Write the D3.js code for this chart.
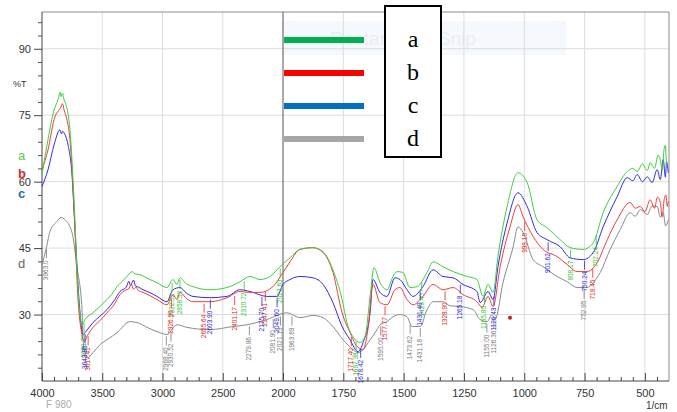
<!DOCTYPE html>
<html>
<head>
<meta charset="utf-8">
<script src="https://cdn.jsdelivr.net/npm/d3@7"></script>
<style>
  html, body { margin: 0; padding: 0; background: #fff; }
  svg { display: block; font-family: "Liberation Sans", Arial, sans-serif; }
</style>
</head>
<body>
<svg id="chart" width="677" height="412"></svg>
<script>
// series values: [wavenumber (1/cm), %T]
const seriesA = [
  [4000,61.6],[3950,69.5],[3900,76.2],[3867,78.5],[3850,80.2],[3842,79.2],[3830,80.0],[3817,78.5],[3801,77.4],
  [3768,71.7],[3734,55.9],[3701,35.6],[3676,28.4],[3668,27.7],[3643,28.9],[3577,30.4],
  [3520,31.8],[3461,33.4],[3420,34.6],[3378,36.3],[3330,37.6],[3295,38.6],[3253,39.7],[3230,39.2],[3187,39.0],
  [3120,38.1],[3046,37.2],[2963,36.1],[2913,37.9],[2880,36.8],[2855,38.3],[2800,36.9],[2747,36.3],
  [2606,35.6],[2465,36.1],[2357,37.4],[2274,38.6],[2191,37.9],[2108,38.6],[2025,40.8],
  [1971,42.8],[1930,44.7],[1876,45.1],[1834,44.2],[1793,40.1],[1755,33.4],[1735,28.2],[1710,25.0],
  [1681,23.7],[1660,25.0],[1639,34.1],[1623,40.6],[1598,37.2],[1569,35.6],[1544,38.6],[1527,39.7],
  [1503,39.5],[1474,36.1],[1444,36.3],[1403,39.5],[1378,41.9],[1337,40.8],[1295,39.7],[1237,38.6],
  [1196,37.9],[1171,34.1],[1150,36.8],[1129,35.0],[1109,43.1],[1071,54.4],[1026,62.0],[988,59.8],
  [947,51.4],[905,49.6],[851,46.9],[810,45.1],[756,44.7],[714,46.2],[673,53.0],[615,58.9],[573,62.3],
  [550,63.0],[532,62.3],[510,64.0],[490,62.5],[478,64.3],[460,63.0],[445,66.0],[436,65.0],[428,62.5],
  [420,67.5],[415,68.2],[410,64.0],[403,63.4]
];
const seriesB = [
  [4000,62.7],[3950,67.2],[3900,74.0],[3842,76.9],[3830,77.6],[3817,76.2],[3793,74.0],[3768,69.5],
  [3734,53.7],[3701,33.4],[3668,25.5],[3651,23.9],[3618,25.5],[3577,27.1],[3520,28.6],[3461,30.4],
  [3400,32.3],[3353,34.5],[3300,35.6],[3280,35.8],[3260,36.8],[3240,35.7],[3220,36.2],[3200,35.4],
  [3162,35.0],[3100,34.2],[3046,33.4],[2963,32.2],
  [2913,34.5],[2880,33.4],[2855,35.0],[2800,33.6],[2747,32.9],[2606,32.9],[2465,33.8],[2357,35.2],
  [2274,35.0],[2191,35.0],[2084,36.3],[2000,39.5],[1971,41.9],[1930,44.7],[1876,45.1],[1834,44.0],
  [1793,39.5],[1755,30.4],[1722,25.9],[1693,22.8],[1668,22.1],[1648,26.6],[1627,36.8],[1598,32.7],
  [1569,32.2],[1536,35.6],[1515,36.1],[1486,33.4],[1461,32.2],[1420,34.1],[1378,36.8],[1337,35.6],
  [1295,36.1],[1254,34.5],[1196,32.9],[1175,31.6],[1150,34.1],[1129,31.8],[1100,40.8],[1059,49.8],
  [1026,54.8],[1005,52.1],[963,47.6],[922,44.7],[864,43.1],[822,41.3],[781,39.7],[739,39.7],[698,41.7],
  [656,46.9],[615,51.4],[561,55.3],[540,54.0],[519,54.4],[500,53.2],[478,55.9],[460,54.0],[448,56.5],
  [436,55.3],[428,52.0],[420,56.0],[413,57.0],[407,54.4],[403,55.5]
];
const seriesC = [
  [4000,58.9],[3950,62.7],[3900,68.3],[3851,71.7],[3838,70.8],[3828,71.4],[3817,71.0],[3784,68.3],
  [3751,61.6],[3726,49.2],[3693,33.4],[3660,25.5],[3635,26.2],[3577,28.2],[3520,29.6],[3461,31.1],
  [3400,33.2],[3353,35.2],[3300,36.2],[3280,37.5],[3265,36.6],[3240,37.8],[3225,36.5],[3200,36.2],
  [3162,35.6],[3100,34.9],[3046,34.1],[2963,32.9],
  [2913,35.6],[2855,36.1],[2800,34.8],[2747,34.1],[2606,33.8],[2465,34.1],[2357,35.6],[2274,35.2],
  [2133,34.1],[2050,34.1],[2000,36.8],[1971,37.9],[1930,38.6],[1876,38.3],[1834,36.8],[1793,32.7],
  [1755,27.3],[1722,24.3],[1689,21.6],[1668,23.7],[1639,30.4],[1627,37.9],[1598,35.0],[1569,34.1],
  [1536,38.3],[1515,37.9],[1486,35.6],[1461,34.1],[1420,36.3],[1378,40.1],[1337,38.6],[1295,38.3],
  [1254,36.8],[1196,35.2],[1183,32.7],[1150,35.2],[1129,33.4],[1109,40.8],[1071,50.7],[1026,57.5],
  [988,54.4],[947,48.5],[905,46.9],[851,45.3],[810,42.8],[756,42.4],[714,44.0],[673,49.8],[615,56.6],
  [573,60.9],[550,60.2],[532,61.6],[510,60.0],[490,61.1],[470,59.8],[449,62.7],[436,60.5],[424,65.0],
  [415,61.0],[410,64.5],[403,62.0]
];
const seriesD = [
  [4000,41.3],[3967,44.7],[3934,48.7],[3876,51.0],[3842,51.9],[3809,51.4],[3751,48.5],[3710,40.8],
  [3668,31.1],[3660,24.3],[3643,21.4],[3618,20.3],[3577,21.4],[3519,23.2],[3450,24.5],[3378,25.9],
  [3270,28.4],[3212,28.2],[3120,27.0],[3021,25.9],[2963,25.5],[2880,27.7],[2797,27.1],[2606,26.6],
  [2415,27.3],[2299,27.7],[2133,28.9],[1983,30.4],[1930,29.3],[1876,29.8],[1834,29.3],[1793,27.3],
  [1751,24.3],[1710,22.1],[1689,21.4],[1668,22.1],[1639,24.3],[1610,26.6],[1598,27.7],[1569,28.4],
  [1544,29.5],[1515,30.0],[1486,29.5],[1465,27.3],[1432,27.3],[1403,31.1],[1378,32.9],[1337,32.9],
  [1308,32.0],[1266,31.8],[1212,31.1],[1183,28.9],[1154,28.4],[1134,30.0],[1121,28.9],[1088,37.2],
  [1046,45.3],[1026,49.8],[1005,48.5],[963,42.4],[922,40.8],[864,38.6],[822,37.4],[781,36.1],
  [739,36.1],[714,37.2],[685,39.5],[644,44.7],[602,49.2],[561,53.0],[540,52.2],[519,53.7],[490,52.6],
  [470,54.5],[449,54.4],[436,52.0],[424,53.0],[414,50.0],[403,51.4]
];

const seriesNames = ['a', 'b', 'c', 'd'];
const xTickValues = [4000, 3500, 3000, 2500, 2000, 1750, 1500, 1250, 1000, 750, 500];
const yTickValues = [30, 45, 60, 75, 90];

// peak labels: [wavenumber, text]
const peaksA = [[3651,'3651.75'],[2920,'2922.52'],[2855,'2858.53'],[2322,'2310.72'],[2023,'2023.63'],[1697,'1697.38'],[1425,'1425.40'],[1165,'1165.80'],[808,'808.17'],[702,'702.24']];
const peaksB = [[3617,'3617.41'],[2926,'2926.90'],[2655,'2655.64'],[2401,'2401.17'],[2147,'2147.41'],[1717,'1717.40'],[1577,'1577.77'],[1328,'1328.90'],[998,'998.18'],[716,'718.45']];
const peaksC = [[3643,'3643.95'],[2603,'2603.90'],[2175,'2175.70'],[2049,'2049.60'],[1678,'1678.42'],[1431,'1431.40'],[1265,'1265.18'],[1126,'1126.43'],[901,'901.62'],[750,'750.24']];
const peaksD = [[3963,'3963.0'],[2968,'2968.40'],[2930,'2930.52'],[2279,'2279.86'],[2081,'2081.90'],[2021,'2021.13'],[1963,'1963.69'],[1595,'1595.00'],[1473,'1473.62'],[1431,'1431.18'],[1155,'1155.00'],[1126,'1126.36'],[752,'752.95']];
const markerPoint = [1059, 29.3];

const lineColors = ['#3ccf3c', '#f23c3c', '#2b2bea', '#8a8a8a'];
const labelColors = ['#34c034', '#e02525', '#2525d8', '#7a7a7a'];
const sideColors = ['#5cc85c', '#d42a2a', '#1f6fa8', '#666'];
const legendColors = ['#00b050', '#ff0000', '#0070c0', '#a6a6a6'];

const svg = d3.select('#chart');
const plotLeft = 42, plotRight = 669, plotTop = 12, plotBottom = 381;

const x = d3.scaleLinear().domain([4000, 2000, 400]).range([plotLeft, 283, plotRight]);
const y = d3.scaleLinear().domain([15, 98.3]).range([plotBottom, plotTop]);

// faint snip watermark
svg.append('rect')
  .attr('x', 281).attr('y', 21).attr('width', 285).attr('height', 34)
  .attr('fill', '#f5f8fc');
svg.append('text')
  .attr('x', 330).attr('y', 45)
  .attr('font-size', 19).attr('fill', '#eaedf1')
  .text('Rectangular Snip');

// grid
const grid = svg.append('g').attr('class', 'grid');
grid.selectAll('line.vx')
  .data(xTickValues.filter(d => d !== 4000 && d !== 2000))
  .join('line')
  .attr('x1', d => x(d)).attr('x2', d => x(d))
  .attr('y1', plotTop).attr('y2', plotBottom)
  .attr('stroke', '#dcdcdc').attr('stroke-width', 1);
grid.selectAll('line.hy')
  .data(yTickValues)
  .join('line')
  .attr('x1', plotLeft).attr('x2', plotRight)
  .attr('y1', d => y(d)).attr('y2', d => y(d))
  .attr('stroke', '#dcdcdc').attr('stroke-width', 1);

// frame top / right
svg.append('line').attr('x1', plotLeft).attr('x2', plotRight).attr('y1', plotTop).attr('y2', plotTop)
  .attr('stroke', '#8c8c8c');
svg.append('line').attr('x1', plotRight).attr('x2', plotRight).attr('y1', plotTop).attr('y2', plotBottom)
  .attr('stroke', '#8c8c8c');

// 2000 marker line
svg.append('line').attr('x1', x(2000)).attr('x2', x(2000)).attr('y1', plotTop).attr('y2', plotBottom)
  .attr('stroke', '#555').attr('stroke-width', 1);

// x axis
const minorX = d3.range(3900, 2000, -100).concat(d3.range(1950, 400, -50))
  .filter(d => !xTickValues.includes(d));
const xMinor = svg.append('g').attr('transform', `translate(0,${plotBottom})`)
  .call(d3.axisBottom(x).tickValues(minorX).tickSize(-4).tickFormat(''));
xMinor.select('.domain').remove();
xMinor.selectAll('line').attr('stroke', '#444');

const xAxis = svg.append('g').attr('transform', `translate(0,${plotBottom})`)
  .call(d3.axisBottom(x).tickValues(xTickValues).tickSize(-8).tickPadding(6).tickFormat(d3.format('d')));
xAxis.select('.domain').attr('stroke', '#444').attr('d', `M${plotLeft},0H${plotRight}`);
xAxis.selectAll('line').attr('stroke', '#444');
xAxis.selectAll('text').attr('font-size', 11).attr('fill', '#333').attr('dy', '0.9em');

// y axis
const minorY = d3.range(18, 98, 3).filter(d => !yTickValues.includes(d));
const yMinor = svg.append('g').attr('transform', `translate(${plotLeft},0)`)
  .call(d3.axisLeft(y).tickValues(minorY).tickSize(4).tickFormat(''));
yMinor.select('.domain').remove();
yMinor.selectAll('line').attr('stroke', '#555');

const yAxis = svg.append('g').attr('transform', `translate(${plotLeft},0)`)
  .call(d3.axisLeft(y).tickValues(yTickValues).tickSize(8).tickPadding(3));
yAxis.select('.domain').attr('stroke', '#444').attr('d', `M0,${plotTop}V${plotBottom}`);
yAxis.selectAll('line').attr('stroke', '#444');
yAxis.selectAll('text').attr('font-size', 11).attr('fill', '#333');

// axis captions
svg.append('text').attr('x', 13).attr('y', 87).attr('font-size', 9).attr('fill', '#333').text('%T');
svg.append('text').attr('x', 46).attr('y', 408).attr('font-size', 10).attr('fill', '#aaa').text('F 980');
svg.append('text').attr('x', 646).attr('y', 409).attr('font-size', 10).attr('fill', '#333').text('1/cm');

// spectra
const line = d3.line()
  .x(d => x(d[0]))
  .y(d => y(d[1]))
  .curve(d3.curveMonotoneX);

const allSeries = [seriesA, seriesB, seriesC, seriesD];
const allPeaks = [peaksA, peaksB, peaksC, peaksD];

// draw gray first so coloured lines sit on top
[3, 2, 1, 0].forEach(i => {
  svg.append('path')
    .datum(allSeries[i].slice().sort((a, b) => b[0] - a[0]))
    .attr('fill', 'none')
    .attr('stroke', lineColors[i])
    .attr('stroke-width', 1)
    .attr('stroke-linejoin', 'round')
    .attr('d', line);
});

// peak labels, hanging under each curve
function valueAt(series, wn) {
  const s = series.slice().sort((a, b) => a[0] - b[0]);
  const i = d3.bisector(d => d[0]).left(s, wn);
  if (i <= 0) return s[0][1];
  if (i >= s.length) return s[s.length - 1][1];
  const a = s[i - 1], b = s[i];
  const t = (wn - a[0]) / (b[0] - a[0]);
  return a[1] + t * (b[1] - a[1]);
}

allPeaks.forEach((peaks, i) => {
  const g = svg.append('g').attr('class', 'peaks-' + seriesNames[i]);
  peaks.forEach(p => {
    const px = x(p[0]);
    const py = y(valueAt(allSeries[i], p[0])) + 2;
    g.append('line')
      .attr('x1', px).attr('x2', px)
      .attr('y1', py).attr('y2', py + 9)
      .attr('stroke', labelColors[i]).attr('stroke-width', 0.8);
    g.append('text')
      .attr('transform', `translate(${px + 2},${py + 11}) rotate(-90)`)
      .attr('text-anchor', 'end')
      .attr('font-size', 6.5)
      .attr('fill', labelColors[i])
      .text(p[1]);
  });
});

svg.append('circle')
  .attr('cx', x(markerPoint[0])).attr('cy', y(markerPoint[1]))
  .attr('r', 2).attr('fill', '#cc1f1f');

// side letters
const sideY = [160, 178, 198, 268];
seriesNames.forEach((n, i) => {
  svg.append('text')
    .attr('x', 18).attr('y', sideY[i])
    .attr('font-size', 13)
    .attr('font-weight', i === 1 || i === 2 ? 'bold' : 'normal')
    .attr('fill', sideColors[i])
    .text(n);
});

// legend
const legend = svg.append('g').attr('class', 'legend');
legend.append('rect')
  .attr('x', 385).attr('y', 6).attr('width', 56).attr('height', 151)
  .attr('fill', '#fff').attr('stroke', '#000').attr('stroke-width', 2);
seriesNames.forEach((n, i) => {
  const ly = 40 + i * 33;
  legend.append('line')
    .attr('x1', 284).attr('x2', 364)
    .attr('y1', ly).attr('y2', ly)
    .attr('stroke', legendColors[i]).attr('stroke-width', 6);
  legend.append('text')
    .attr('x', 413).attr('y', ly + 7)
    .attr('text-anchor', 'middle')
    .attr('font-family', '"Liberation Serif", "Times New Roman", serif')
    .attr('font-size', 24)
    .attr('fill', '#000')
    .text(n);
});
</script>
</body>
</html>
